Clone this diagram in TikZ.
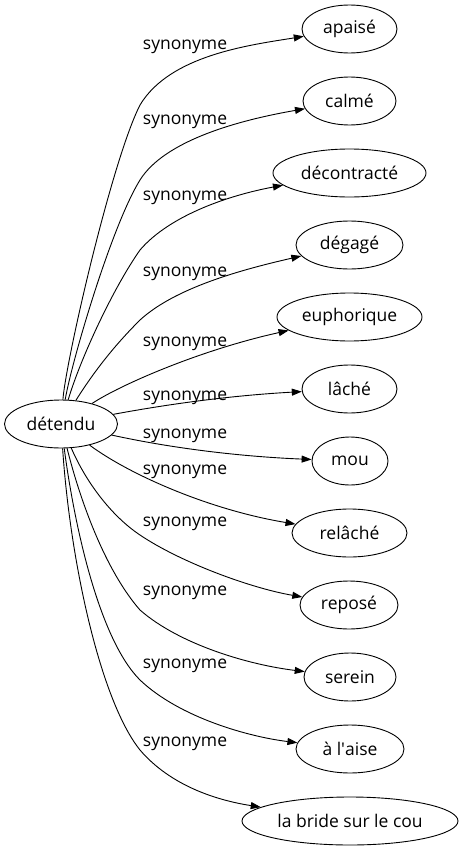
\documentclass[tikz,border=0pt]{standalone}
\usepackage{fontspec}
\setmainfont{Open Sans}
\usetikzlibrary{shapes.geometric,arrows.meta}
\begin{document}
\begin{tikzpicture}[x=1pt,y=-1pt,
  every node/.style={font=\fontsize{17.5}{20}\selectfont},
  term/.style={draw,ellipse,line width=0.9pt,inner sep=0pt,minimum height=48pt},
  lab/.style={inner sep=0pt},
  syn/.style={line width=0.9pt,-{Triangle[length=10pt,width=7pt]}}]
\useasboundingbox (0,0) rectangle (462,851);
\node[term,minimum width=113pt] (det) at (61,424) {détendu};
\node[term,minimum width=95pt]  (apaise) at (349.5,29) {apaisé};
\node[term,minimum width=93pt]  (calme) at (349.5,101) {calmé};
\node[term,minimum width=153pt] (decontracte) at (349.5,173) {décontracté};
\node[term,minimum width=107pt] (degage) at (349.5,245) {dégagé};
\node[term,minimum width=145pt] (euphorique) at (349.5,317) {euphorique};
\node[term,minimum width=95pt]  (lache) at (349.5,389) {lâché};
\node[term,minimum width=76pt]  (mou) at (350,461) {mou};
\node[term,minimum width=115pt] (relache) at (349.5,533) {relâché};
\node[term,minimum width=98pt]  (repose) at (349,605) {reposé};
\node[term,minimum width=92pt]  (serein) at (350,677) {serein};
\node[term,minimum width=108pt] (alaise) at (350,749) {à l\textquotesingle aise};
\node[term,minimum width=216pt] (labride) at (350,821) {la bride sur le cou};
\node[lab] (l1) at (185,47) {synonyme};
\node[lab] (l2) at (185,122) {synonyme};
\node[lab] (l3) at (185,198) {synonyme};
\node[lab] (l4) at (185,274) {synonyme};
\node[lab] (l5) at (185,344) {synonyme};
\node[lab] (l6) at (185,398) {synonyme};
\node[lab] (l7) at (185,436) {synonyme};
\node[lab] (l8) at (185,472) {synonyme};
\node[lab] (l9) at (185,524) {synonyme};
\node[lab] (l10) at (185,593) {synonyme};
\node[lab] (l11) at (185,666) {synonyme};
\node[lab] (l12) at (185,744) {synonyme};
\coordinate (m1) at (140,105);
\coordinate (m2) at (140,180);
\coordinate (m3) at (140,250);
\coordinate (m4) at (140,320);
\coordinate (m9) at (140,535);
\coordinate (m10) at (140,610);
\coordinate (m11) at (140,680);
\coordinate (m12) at (140,750);
\draw[syn] (det) .. controls (66,360) and (112,160) .. (m1) .. controls (170,55) and (250,45) .. (apaise);
\draw[syn] (det) .. controls (72,360) and (112,225) .. (m2) .. controls (165,140) and (240,120) .. (calme);
\draw[syn] (det) .. controls (80,360) and (112,290) .. (m3) .. controls (170,215) and (230,195) .. (decontracte);
\draw[syn] (det) .. controls (95,370) and (115,345) .. (m4) .. controls (175,288) and (240,270) .. (degage);
\draw[syn] (det) .. controls (120,385) and (200,350) .. (euphorique);
\draw[syn] (det) .. controls (180,402) and (240,395) .. (lache);
\draw[syn] (det) .. controls (180,450) and (250,457) .. (mou);
\draw[syn] (det) .. controls (130,475) and (210,510) .. (relache);
\draw[syn] (det) .. controls (85,480) and (110,515) .. (m9) .. controls (180,562) and (250,588) .. (repose);
\draw[syn] (det) .. controls (80,500) and (105,570) .. (m10) .. controls (180,645) and (250,665) .. (serein);
\draw[syn] (det) .. controls (75,530) and (100,640) .. (m11) .. controls (180,718) and (250,737) .. (alaise);
\draw[syn] (det) .. controls (70,560) and (100,700) .. (m12) .. controls (170,785) and (215,800) .. (labride);
\end{tikzpicture}
\end{document}
